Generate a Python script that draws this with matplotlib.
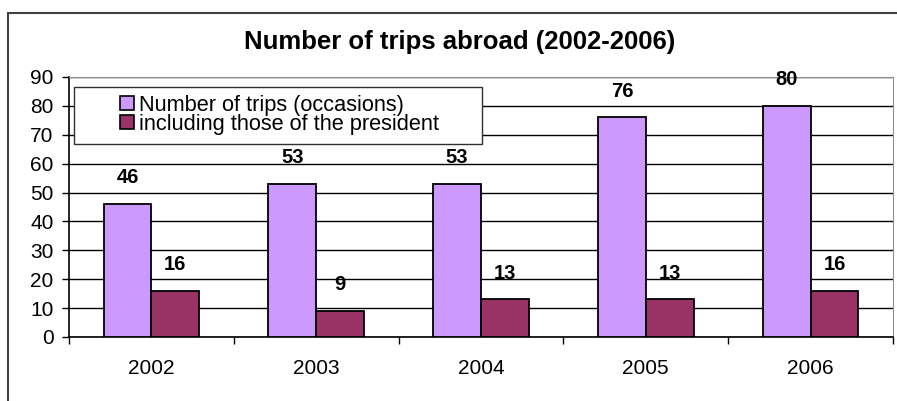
import matplotlib
matplotlib.use("Agg")
import matplotlib.pyplot as plt
from matplotlib.patches import Rectangle, Patch
import numpy as np

plt.rcParams['font.family'] = ['Liberation Sans', 'DejaVu Sans']

years = ['2002', '2003', '2004', '2005', '2006']
trips = [46, 53, 53, 76, 80]
president = [16, 9, 13, 13, 16]
series_names = ['Number of trips (occasions)', 'including those of the president']

purple = '#CC99FF'
maroon = '#993366'

fig = plt.figure(figsize=(8.97, 4.01), dpi=100)
ax = fig.add_axes([69 / 897, 1 - 337 / 401, 824 / 897, 260 / 401])

x = np.arange(len(years))
w = 0.29
b1 = ax.bar(x - w / 2, trips, w, color=purple, edgecolor='black', linewidth=1.3, zorder=3)
b2 = ax.bar(x + w / 2, president, w, color=maroon, edgecolor='black', linewidth=1.3, zorder=3)

for bars in (b1, b2):
    for rect in bars:
        h = rect.get_height()
        ax.annotate(f'{h:g}', xy=(rect.get_x() + rect.get_width() / 2, h),
                    xytext=(0, 19), textcoords='offset points',
                    ha='center', va='center', fontsize=14.5, fontweight='bold', zorder=5)

ax.set_xlim(-0.5, len(years) - 0.5)
ax.set_ylim(0, 90)
ax.set_yticks(range(0, 91, 10))
ax.yaxis.grid(True, color='black', linewidth=1)
ax.set_axisbelow(True)

ax.set_xticks(x)
ax.set_xticklabels(years)
ax.set_xticks(np.arange(-0.5, len(years)), minor=True)
ax.tick_params(axis='x', which='major', length=0, pad=16, labelsize=15)
ax.tick_params(axis='x', which='minor', length=5, width=1, direction='out')
ax.tick_params(axis='y', length=5, width=1, direction='out', pad=6, labelsize=15)

for s in ['top', 'right']:
    ax.spines[s].set_color('#909090')
for s in ['left', 'bottom']:
    ax.spines[s].set_color('black')
    ax.spines[s].set_linewidth(1.2)

# legend box drawn over the grid
ax.add_patch(Rectangle((5 / 824, 193 / 260), 408 / 824, 57 / 260, transform=ax.transAxes,
                       facecolor='white', edgecolor='#303030', linewidth=1, zorder=6))
handles = [Patch(facecolor=purple, edgecolor='black', linewidth=1.2),
           Patch(facecolor=maroon, edgecolor='black', linewidth=1.2)]
leg = ax.legend(handles, series_names, loc='center left',
                bbox_to_anchor=(51 / 824, 0.855), frameon=False, fontsize=15.7,
                handlelength=0.65, handleheight=0.65, handletextpad=0.2,
                labelspacing=-0.08, borderpad=0, borderaxespad=0)
leg.set_zorder(7)

fig.text(460 / 897, 1 - 42 / 401, 'Number of trips abroad (2002-2006)',
         ha='center', va='center', fontsize=18.5, fontweight='bold')

# outer chart frame
fig.patches.append(Rectangle((8 / 897, -0.2), 1.2, 0.2 + 1 - 13 / 401, transform=fig.transFigure,
                             fill=False, edgecolor='#404040', linewidth=1.5))

fig.savefig('out.png', dpi=100)
